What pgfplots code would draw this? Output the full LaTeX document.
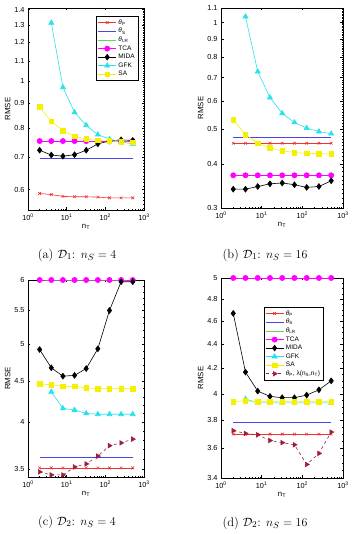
\documentclass[border=0pt]{standalone}
\usepackage{fontspec}
\usepackage{pgfplots}
\pgfplotsset{compat=1.18}
\newfontfamily\hel{Liberation Sans}
\definecolor{cR}{RGB}{240,50,50}
\definecolor{cB}{RGB}{70,70,235}
\definecolor{cG}{RGB}{90,220,90}
\definecolor{cM}{RGB}{255,0,255}
\definecolor{cC}{RGB}{40,225,235}
\definecolor{cY}{RGB}{245,240,0}
\definecolor{cBr}{RGB}{160,30,60}
\pgfplotsset{
 every axis/.append style={
  scale only axis, xmin=1, xmax=1000,
  xtick={1,10,100,1000},
  xticklabels={10\textsuperscript{0},10\textsuperscript{1},10\textsuperscript{2},10\textsuperscript{3}},
  tick label style={font=\hel\fontsize{7.3}{8}\selectfont},
  label style={font=\hel\fontsize{7.8}{9}\selectfont},
  xlabel={n\textsubscript{T}}, ylabel={RMSE},
  xlabel style={yshift=3pt}, ylabel style={yshift=-3pt},
  major tick length=2.5pt, minor tick length=1.4pt,
  axis line style={line width=0.5pt},
  tick style={line width=0.35pt, black},
  legend cell align=left,
  legend style={font=\hel\fontsize{6.5}{7.5}\selectfont, draw=black, line width=0.5pt, inner sep=1.2pt, row sep=-1.5pt},
  legend image code/.code={\draw[mark repeat=2,mark phase=2] plot coordinates {(0pt,0pt)(9pt,0pt)(18pt,0pt)};},
 },
 every axis plot/.append style={line width=0.6pt},
 pP/.style={color=cR, mark=x, mark size=1.9pt, mark options={solid}},
 pS/.style={color=cB, no marks},
 pLR/.style={color=cG, no marks},
 pTCA/.style={color=cM, mark=*, mark size=2.6pt, mark options={solid, fill=cM}},
 pMIDA/.style={color=black, mark=diamond*, mark size=2.9pt, mark options={solid, fill=black}},
 pGFK/.style={color=cC, mark=triangle*, mark size=2.9pt, mark options={solid, fill=cC}},
 pSA/.style={color=cY, mark=square*, mark size=2.3pt, mark options={solid, fill=cY}},
 pL/.style={color=cBr, dashed, mark=triangle*, mark size=2.6pt, mark options={solid, rotate=-90, fill=cBr}},
}
\begin{document}
\begin{tikzpicture}
\useasboundingbox (0,0) rectangle (352pt,534pt);
% (a)
\begin{axis}[xmode=log, ymode=log, at={(28pt,324pt)}, anchor=south west, width=116pt, height=202pt,
  ymin=0.545, ymax=1.41,
  ytick={0.6,0.7,0.8,0.9,1,1.1,1.2,1.3,1.4},
  yticklabels={0.6,0.7,0.8,0.9,1,1.1,1.2,1.3,1.4},
  minor ytick={0.55,0.56,...,1.4},
  legend style={at={(0.95,0.96)}, anchor=north east}]
\addplot[pP] coordinates {(2,0.589)(4,0.586)(8,0.581)(16,0.580)(32,0.580)(64,0.579)(128,0.577)(256,0.577)(512,0.577)};
\addplot[pS] coordinates {(2,0.696)(512,0.696)};
\addplot[pLR] coordinates {(2,0.754)(512,0.754)};
\addplot[pTCA] coordinates {(2,0.754)(4,0.754)(8,0.754)(16,0.754)(32,0.754)(64,0.754)(128,0.754)(256,0.754)(512,0.754)};
\addplot[pMIDA] coordinates {(2,0.722)(4,0.706)(8,0.702)(16,0.707)(32,0.722)(64,0.744)(128,0.754)(256,0.758)(512,0.756)};
\addplot[pGFK] coordinates {(4,1.315)(8,0.971)(16,0.863)(32,0.812)(64,0.777)(128,0.761)(256,0.751)(512,0.744)};
\addplot[pSA] coordinates {(2,0.885)(4,0.827)(8,0.792)(16,0.771)(32,0.761)(64,0.756)(128,0.754)(256,0.751)(512,0.750)};
\legend{{\itshape θ}\textsubscript{P},{\itshape θ}\textsubscript{S},{\itshape θ}\textsubscript{LR},TCA,MIDA,GFK,SA}
\end{axis}
% (b)
\begin{axis}[xmode=log, ymode=log, at={(221pt,326pt)}, anchor=south west, width=122pt, height=200pt,
  ymin=0.3, ymax=1.1,
  ytick={0.3,0.4,0.5,0.6,0.7,0.8,0.9,1,1.1},
  yticklabels={0.3,0.4,0.5,0.6,0.7,0.8,0.9,1,1.1},
  minor ytick={0.3,0.31,...,1.1}]
\addplot[pP] coordinates {(2,0.457)(4,0.457)(8,0.457)(16,0.457)(32,0.457)(64,0.457)(128,0.457)(256,0.457)(512,0.457)};
\addplot[pS] coordinates {(2,0.476)(512,0.476)};
\addplot[pLR] coordinates {(2,0.371)(512,0.371)};
\addplot[pTCA] coordinates {(2,0.371)(4,0.371)(8,0.371)(16,0.371)(32,0.371)(64,0.371)(128,0.371)(256,0.371)(512,0.371)};
\addplot[pMIDA] coordinates {(2,0.339)(4,0.339)(8,0.345)(16,0.351)(32,0.353)(64,0.349)(128,0.343)(256,0.345)(512,0.358)};
\addplot[pGFK] coordinates {(4,1.04)(8,0.728)(16,0.615)(32,0.555)(64,0.523)(128,0.504)(256,0.493)(512,0.486)};
\addplot[pSA] coordinates {(2,0.532)(4,0.483)(8,0.457)(16,0.443)(32,0.435)(64,0.430)(128,0.428)(256,0.427)(512,0.426)};
\end{axis}
% (c)
\begin{axis}[xmode=log, ymode=log, at={(28pt,57pt)}, anchor=south west, width=116pt, height=197pt,
  ymin=3.42, ymax=6,
  ytick={3.5,4,4.5,5,5.5,6},
  yticklabels={3.5,4,4.5,5,5.5,6},
  minor ytick={3.5,3.6,...,6}]
\addplot[pP] coordinates {(2,3.51)(4,3.51)(8,3.51)(16,3.51)(32,3.51)(64,3.51)(128,3.51)(256,3.51)(512,3.51)};
\addplot[pS] coordinates {(2,3.62)(512,3.62)};
\addplot[pLR] coordinates {(2,6)(512,6)};
\addplot[pTCA] coordinates {(2,6)(4,6)(8,6)(16,6)(32,6)(64,6)(128,6)(256,6)(512,6)};
\addplot[pMIDA] coordinates {(2,4.92)(4,4.67)(8,4.56)(16,4.57)(32,4.66)(64,4.93)(128,5.5)(256,5.97)(512,5.97)};
\addplot[pGFK] coordinates {(4,4.36)(8,4.16)(16,4.14)(32,4.10)(64,4.09)(128,4.09)(256,4.09)(512,4.09)};
\addplot[pSA] coordinates {(2,4.46)(4,4.45)(8,4.43)(16,4.43)(32,4.41)(64,4.40)(128,4.40)(256,4.40)(512,4.40)};
\addplot[pL] coordinates {(2,3.47)(4,3.44)(8,3.44)(16,3.52)(32,3.55)(64,3.63)(128,3.74)(256,3.77)(512,3.81)};
\end{axis}
% (d)
\begin{axis}[xmode=log, ymode=log, at={(221pt,56pt)}, anchor=south west, width=122pt, height=200pt,
  ymin=3.4, ymax=5,
  ytick={3.4,3.6,3.8,4,4.2,4.4,4.6,4.8,5},
  yticklabels={3.4,3.6,3.8,4,4.2,4.4,4.6,4.8,5},
  minor ytick={3.4,3.45,...,5},
  legend style={at={(0.84,0.855)}, anchor=north east}]
\addplot[pP] coordinates {(2,3.70)(4,3.70)(8,3.70)(16,3.70)(32,3.70)(64,3.70)(128,3.70)(256,3.70)(512,3.70)};
\addplot[pS] coordinates {(2,3.785)(512,3.785)};
\addplot[pLR] coordinates {(2,5)(512,5)};
\addplot[pTCA] coordinates {(2,5)(4,5)(8,5)(16,5)(32,5)(64,5)(128,5)(256,5)(512,5)};
\addplot[pMIDA] coordinates {(2,4.67)(4,4.17)(8,4.02)(16,3.98)(32,3.97)(64,3.97)(128,3.99)(256,4.03)(512,4.10)};
\addplot[pGFK] coordinates {(4,3.96)(8,3.93)(16,3.93)(32,3.93)(64,3.93)(128,3.93)(256,3.93)(512,3.93)};
\addplot[pSA] coordinates {(2,3.94)(4,3.945)(8,3.94)(16,3.94)(32,3.94)(64,3.94)(128,3.94)(256,3.94)(512,3.94)};
\addplot[pL] coordinates {(2,3.725)(4,3.705)(8,3.695)(16,3.655)(32,3.64)(64,3.625)(128,3.49)(256,3.565)(512,3.715)};
\legend{{\itshape θ}\textsubscript{P},{\itshape θ}\textsubscript{S},{\itshape θ}\textsubscript{LR},TCA,MIDA,GFK,SA,{{\itshape θ}\textsubscript{P}, λ(n\textsubscript{S},n\textsubscript{T})}}
\end{axis}
\node[font=\fontsize{12.5}{14}\selectfont] at (77pt,279pt) {(a) $\mathcal{D}_1$: $n_S = 4$};
\node[font=\fontsize{12.5}{14}\selectfont] at (265pt,279pt) {(b) $\mathcal{D}_1$: $n_S = 16$};
\node[font=\fontsize{12.5}{14}\selectfont] at (77pt,12pt) {(c) $\mathcal{D}_2$: $n_S = 4$};
\node[font=\fontsize{12.5}{14}\selectfont] at (265pt,11pt) {(d) $\mathcal{D}_2$: $n_S = 16$};
\end{tikzpicture}
\end{document}
